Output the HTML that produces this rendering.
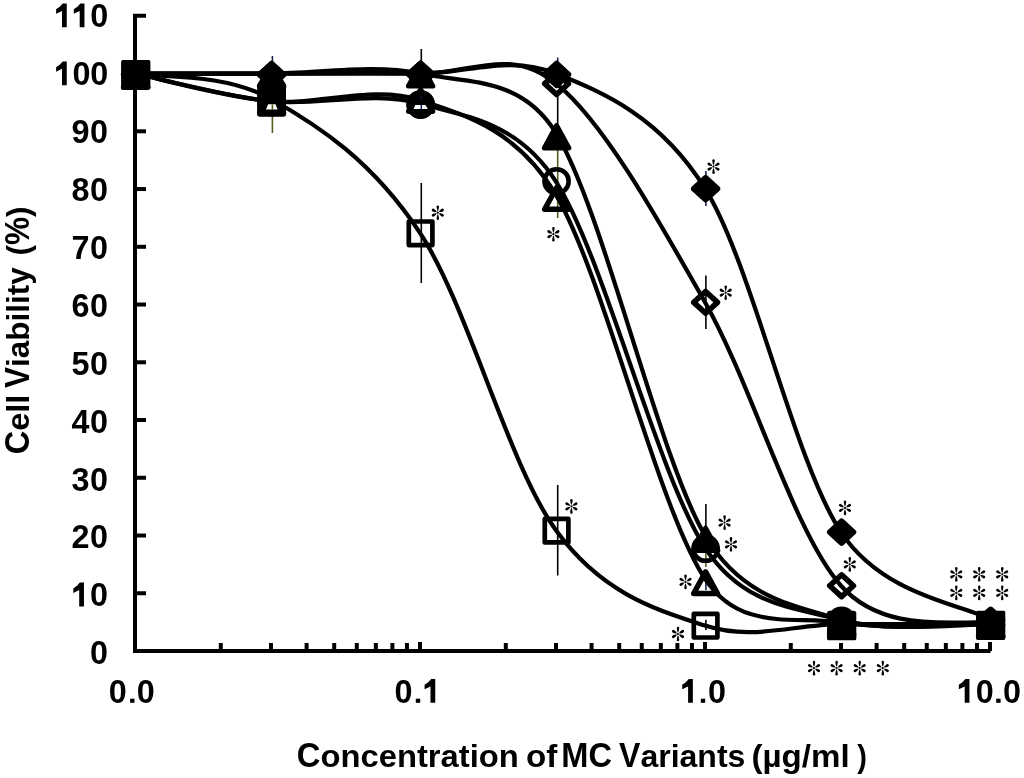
<!DOCTYPE html><html><head><meta charset="utf-8"><title>Cell viability chart</title><style>html,body{margin:0;padding:0;background:#fff;overflow:hidden}svg{display:block;will-change:transform}text{font-family:"Liberation Sans",sans-serif;font-weight:bold;}</style></head><body>
<svg width="1024" height="778" viewBox="0 0 1024 778">
<defs><g id="ast"><circle r="1.1"/><path d="M0,-1.30 C0.54,-1.90 1.20,-4.50 1.20,-6.10 A1.20,1.20 0 0 0 -1.20,-6.10 C-1.20,-4.50 -0.54,-1.90 0,-1.30 Z"/><path d="M0,-1.30 C0.54,-1.90 1.20,-4.50 1.20,-6.10 A1.20,1.20 0 0 0 -1.20,-6.10 C-1.20,-4.50 -0.54,-1.90 0,-1.30 Z" transform="rotate(180)"/><path d="M0,-1.30 C0.61,-1.90 1.35,-3.85 1.35,-5.45 A1.35,1.35 0 0 0 -1.35,-5.45 C-1.35,-3.85 -0.61,-1.90 0,-1.30 Z" transform="rotate(60)"/><path d="M0,-1.30 C0.61,-1.90 1.35,-3.85 1.35,-5.45 A1.35,1.35 0 0 0 -1.35,-5.45 C-1.35,-3.85 -0.61,-1.90 0,-1.30 Z" transform="rotate(120)"/><path d="M0,-1.30 C0.61,-1.90 1.35,-3.85 1.35,-5.45 A1.35,1.35 0 0 0 -1.35,-5.45 C-1.35,-3.85 -0.61,-1.90 0,-1.30 Z" transform="rotate(240)"/><path d="M0,-1.30 C0.61,-1.90 1.35,-3.85 1.35,-5.45 A1.35,1.35 0 0 0 -1.35,-5.45 C-1.35,-3.85 -0.61,-1.90 0,-1.30 Z" transform="rotate(300)"/></g></defs>
<rect width="1024" height="778" fill="#fff"/>
<g stroke="#000" stroke-width="4" fill="none" stroke-linecap="butt">
<path d="M146,15.8 H135 V651 H990.5"/>
<path d="M135,593.25 H146"/>
<path d="M135,535.51 H146"/>
<path d="M135,477.76 H146"/>
<path d="M135,420.02 H146"/>
<path d="M135,362.28 H146"/>
<path d="M135,304.53 H146"/>
<path d="M135,246.79 H146"/>
<path d="M135,189.04 H146"/>
<path d="M135,131.30 H146"/>
<path d="M135,73.55 H146"/>
<path d="M220.79,651 V643"/>
<path d="M270.98,651 V643"/>
<path d="M306.59,651 V643"/>
<path d="M334.21,651 V643"/>
<path d="M356.77,651 V643"/>
<path d="M375.85,651 V643"/>
<path d="M392.38,651 V643"/>
<path d="M406.96,651 V643"/>
<path d="M420.00,651 V642"/>
<path d="M505.79,651 V643"/>
<path d="M555.98,651 V643"/>
<path d="M591.59,651 V643"/>
<path d="M619.21,651 V643"/>
<path d="M641.77,651 V643"/>
<path d="M660.85,651 V643"/>
<path d="M677.38,651 V643"/>
<path d="M691.96,651 V643"/>
<path d="M705.00,651 V642"/>
<path d="M790.79,651 V643"/>
<path d="M840.98,651 V643"/>
<path d="M876.59,651 V643"/>
<path d="M904.21,651 V643"/>
<path d="M926.77,651 V643"/>
<path d="M945.85,651 V643"/>
<path d="M962.38,651 V643"/>
<path d="M976.96,651 V643"/>
<path d="M990.00,651 V642"/>
</g>
<g fill="#000">
<text transform="translate(89.92,664.30) scale(1.0050,1.0600)" font-size="32.20">0</text>
<text transform="translate(89.92,606.39) scale(1.0050,1.0600)" font-size="32.20">0</text>
<path d="M83.95,582.60 L83.95,606.39 L79.20,606.39 L79.20,590.00 L73.30,592.89 L73.30,588.39 L76.90,585.79 L79.90,582.60 Z"/>
<text transform="translate(89.92,548.49) scale(1.0050,1.0600)" font-size="32.20">0</text>
<text transform="translate(71.61,548.49) scale(1.0050,1.0600)" font-size="32.20">2</text>
<text transform="translate(89.92,490.58) scale(1.0050,1.0600)" font-size="32.20">0</text>
<text transform="translate(71.61,490.58) scale(1.0050,1.0600)" font-size="32.20">3</text>
<text transform="translate(89.92,432.68) scale(1.0050,1.0600)" font-size="32.20">0</text>
<text transform="translate(71.60,432.68) scale(1.0050,1.0600)" font-size="32.20">4</text>
<text transform="translate(89.92,374.78) scale(1.0050,1.0600)" font-size="32.20">0</text>
<text transform="translate(71.61,374.78) scale(1.0050,1.0600)" font-size="32.20">5</text>
<text transform="translate(89.92,316.87) scale(1.0050,1.0600)" font-size="32.20">0</text>
<text transform="translate(71.62,316.87) scale(1.0050,1.0600)" font-size="32.20">6</text>
<text transform="translate(89.92,258.97) scale(1.0050,1.0600)" font-size="32.20">0</text>
<text transform="translate(71.62,258.97) scale(1.0050,1.0600)" font-size="32.20">7</text>
<text transform="translate(89.92,201.06) scale(1.0050,1.0600)" font-size="32.20">0</text>
<text transform="translate(71.61,201.06) scale(1.0050,1.0600)" font-size="32.20">8</text>
<text transform="translate(89.92,143.16) scale(1.0050,1.0600)" font-size="32.20">0</text>
<text transform="translate(71.61,143.16) scale(1.0050,1.0600)" font-size="32.20">9</text>
<text transform="translate(90.22,85.25) scale(1.0050,1.0600)" font-size="32.20">0</text>
<text transform="translate(72.52,85.25) scale(1.0050,1.0600)" font-size="32.20">0</text>
<path d="M66.75,61.45 L66.75,85.25 L62.00,85.25 L62.00,68.85 L56.10,71.75 L56.10,67.25 L59.70,64.65 L62.70,61.45 Z"/>
<text transform="translate(90.22,27.35) scale(1.0050,1.0600)" font-size="32.20">0</text>
<path d="M84.45,3.55 L84.45,27.35 L79.70,27.35 L79.70,10.95 L73.80,13.85 L73.80,9.35 L77.40,6.75 L80.40,3.55 Z"/>
<path d="M66.75,3.55 L66.75,27.35 L62.00,27.35 L62.00,10.95 L56.10,13.85 L56.10,9.35 L59.70,6.75 L62.70,3.55 Z"/>
<text transform="translate(108.82,702.80) scale(1.0050,1.0600)" font-size="32.20">0</text>
<rect x="130.10" y="698.70" width="4.4" height="4.1"/>
<text transform="translate(136.72,702.80) scale(1.0050,1.0600)" font-size="32.20">0</text>
<text transform="translate(394.62,702.80) scale(1.0050,1.0600)" font-size="32.20">0</text>
<rect x="415.80" y="698.70" width="4.4" height="4.1"/>
<path d="M435.25,679.00 L435.25,702.80 L430.50,702.80 L430.50,686.40 L424.60,689.30 L424.60,684.80 L428.20,682.20 L431.20,679.00 Z"/>
<path d="M692.85,679.00 L692.85,702.80 L688.10,702.80 L688.10,686.40 L682.20,689.30 L682.20,684.80 L685.80,682.20 L688.80,679.00 Z"/>
<rect x="700.80" y="698.70" width="4.4" height="4.1"/>
<text transform="translate(708.02,702.80) scale(1.0050,1.0600)" font-size="32.20">0</text>
<path d="M969.45,679.00 L969.45,702.80 L964.70,702.80 L964.70,686.40 L958.80,689.30 L958.80,684.80 L962.40,682.20 L965.40,679.00 Z"/>
<text transform="translate(975.82,702.80) scale(1.0050,1.0600)" font-size="32.20">0</text>
<rect x="996.20" y="698.70" width="4.4" height="4.1"/>
<text transform="translate(1002.92,702.80) scale(1.0050,1.0600)" font-size="32.20">0</text>
<text transform="translate(296.86,767.20) scale(1.0171,1.0700)" font-size="32.20">C</text>
<text transform="translate(320.51,767.20) scale(1.0171,1.0000)" font-size="32.20">oncentration</text>
<text transform="translate(526.00,767.20) scale(1.0309,1.0000)" font-size="32.20">of</text>
<text transform="translate(561.32,767.20) scale(1.0119,1.0700)" font-size="32.20">MC</text>
<text transform="translate(619.08,767.20) scale(0.9942,1.0700)" font-size="32.20">V</text>
<text transform="translate(640.43,767.20) scale(0.9942,1.0000)" font-size="32.20">ariants</text>
<text transform="translate(751.55,767.20) scale(1.0275,1.0000)" font-size="32.20">(µg/ml</text>
<text transform="translate(857.27,767.20) scale(0.9023,1.0000)" font-size="32.20">)</text>
<g transform="rotate(-90)">
<text transform="translate(-454.34,28.90) scale(1.0117,1.0700)" font-size="32.20">C</text>
<text transform="translate(-430.81,28.90) scale(1.0117,1.0000)" font-size="32.20">ell</text>
<text transform="translate(-387.91,28.90) scale(0.9766,1.0700)" font-size="32.20">V</text>
<text transform="translate(-366.94,28.90) scale(0.9766,1.0000)" font-size="32.20">iability</text>
<text transform="translate(-255.57,28.90) scale(0.9793,1.0000)" font-size="32.20">(</text>
<text transform="translate(-245.07,28.90) scale(0.9793,1.0700)" font-size="32.20">%</text>
<text transform="translate(-217.03,28.90) scale(0.9793,1.0000)" font-size="32.20">)</text>
</g>
</g>
<g stroke-width="1.6" fill="none">
<path d="M272.4,56.0 V75.0" stroke="#142350"/>
<path d="M272.4,110.0 V133.0" stroke="#4e5f1e"/>
<path d="M421.3,49.0 V70.0" stroke="#000"/>
<path d="M421.3,183.0 V283.0" stroke="#000"/>
<path d="M557.7,57.5 V62.0" stroke="#142350"/>
<path d="M557.7,95.0 V124.0" stroke="#000"/>
<path d="M557.7,150.0 V218.0" stroke="#4e5f1e"/>
<path d="M557.7,485.0 V575.5" stroke="#000"/>
<path d="M705.9,171.0 V206.0" stroke="#142350"/>
<path d="M705.9,275.4 V329.0" stroke="#000"/>
<path d="M705.9,504.0 V527.0" stroke="#000"/>
<path d="M705.9,553.0 V567.0" stroke="#4e5f1e"/>
<path d="M705.9,578.0 V590.0" stroke="#142350"/>
<path d="M705.9,619.7 V630.0" stroke="#000"/>
</g>
<g stroke="#000" stroke-width="4.2" fill="none">
<path d="M135.00,73.55 C157.66,73.55 223.48,73.55 270.98,73.55 C318.48,73.55 372.50,73.55 420.00,73.55 C467.50,73.55 508.48,54.40 555.98,73.55 C603.48,92.70 660.30,116.54 705.00,188.46 C752.50,264.88 793.48,460.25 840.98,532.05 C883.85,596.84 965.16,604.71 990.00,619.24"/>
<path d="M135.00,73.55 C157.66,73.55 223.48,73.55 270.98,73.55 C318.48,73.55 372.50,71.91 420.00,73.55 C467.50,75.19 508.48,45.25 555.98,83.37 C603.48,121.48 657.50,218.49 705.00,302.22 C752.50,385.95 793.48,532.14 840.98,585.75 C886.88,637.55 965.16,617.51 990.00,623.86"/>
<path d="M135.00,73.55 C157.66,73.55 223.48,73.55 270.98,73.55 C318.48,73.55 372.50,63.64 420.00,73.55 C467.50,83.46 520.91,76.19 555.98,133.03 C603.48,210.02 657.50,454.38 705.00,535.51 C741.38,597.64 793.48,605.43 840.98,619.82 C888.48,634.21 965.16,621.50 990.00,621.84"/>
<path d="M135.00,73.55 C157.66,78.17 223.48,96.26 270.98,101.27 C318.48,106.27 372.50,90.20 420.00,103.58 C467.50,116.95 517.88,122.17 555.98,181.53 C603.48,255.54 657.50,474.54 705.00,547.64 C742.78,605.78 793.48,607.31 840.98,620.11 C888.48,632.91 965.16,623.72 990.00,624.44"/>
<path d="M135.00,73.55 C157.66,78.17 223.48,96.84 270.98,101.27 C318.48,105.69 372.50,84.52 420.00,100.11 C467.50,115.70 517.83,130.74 555.98,194.81 C603.48,274.60 657.50,507.50 705.00,578.82 C740.64,632.33 793.48,615.29 840.98,622.70 C888.48,630.12 965.16,623.19 990.00,623.28"/>
<path d="M135.00,73.55 C157.66,77.78 223.48,72.40 270.98,98.96 C318.48,125.52 372.50,161.03 420.00,232.93 C467.50,304.82 508.48,464.87 555.98,530.31 C602.73,594.73 657.50,609.95 705.00,625.59 C752.50,641.23 793.48,624.34 840.98,624.15 C888.48,623.96 965.16,624.39 990.00,624.44"/>
</g>
<rect x="123.80" y="62.55" width="23.60" height="23.60" fill="none" stroke="#000" stroke-width="4.7" stroke-linejoin="round"/>
<rect x="259.78" y="90.65" width="23.60" height="23.60" fill="none" stroke="#000" stroke-width="4.7" stroke-linejoin="round"/>
<rect x="408.80" y="221.50" width="23.60" height="23.60" fill="none" stroke="#000" stroke-width="4.7" stroke-linejoin="round"/>
<rect x="544.78" y="518.80" width="23.60" height="23.60" fill="none" stroke="#000" stroke-width="4.7" stroke-linejoin="round"/>
<rect x="693.80" y="613.90" width="23.60" height="23.60" fill="none" stroke="#000" stroke-width="4.7" stroke-linejoin="round"/>
<rect x="829.78" y="613.15" width="23.60" height="23.60" fill="none" stroke="#000" stroke-width="4.7" stroke-linejoin="round"/>
<rect x="978.80" y="613.44" width="23.60" height="23.60" fill="none" stroke="#000" stroke-width="4.7" stroke-linejoin="round"/>
<path d="M135.60,65.55 L147.55,87.15 L123.65,87.15 Z" fill="none" stroke="#000" stroke-width="5.4" stroke-linejoin="round"/>
<path d="M271.58,91.20 L283.53,112.80 L259.63,112.80 Z" fill="none" stroke="#000" stroke-width="5.4" stroke-linejoin="round"/>
<path d="M420.60,89.70 L432.55,111.30 L408.65,111.30 Z" fill="none" stroke="#000" stroke-width="5.4" stroke-linejoin="round"/>
<path d="M556.58,187.70 L568.53,209.30 L544.63,209.30 Z" fill="none" stroke="#000" stroke-width="5.4" stroke-linejoin="round"/>
<path d="M705.60,571.90 L717.55,593.50 L693.65,593.50 Z" fill="none" stroke="#000" stroke-width="5.4" stroke-linejoin="round"/>
<path d="M841.58,614.70 L853.53,636.30 L829.63,636.30 Z" fill="none" stroke="#000" stroke-width="5.4" stroke-linejoin="round"/>
<path d="M990.60,615.28 L1002.55,636.88 L978.65,636.88 Z" fill="none" stroke="#000" stroke-width="5.4" stroke-linejoin="round"/>
<circle cx="135.60" cy="74.35" r="12.10" fill="none" stroke="#000" stroke-width="4.6"/>
<circle cx="271.58" cy="102.10" r="12.10" fill="none" stroke="#000" stroke-width="4.6"/>
<circle cx="420.60" cy="104.60" r="12.10" fill="none" stroke="#000" stroke-width="4.6"/>
<circle cx="556.58" cy="181.30" r="12.10" fill="none" stroke="#000" stroke-width="4.6"/>
<circle cx="705.60" cy="548.70" r="12.10" fill="none" stroke="#000" stroke-width="4.6"/>
<circle cx="841.58" cy="621.00" r="12.10" fill="none" stroke="#000" stroke-width="4.6"/>
<circle cx="990.60" cy="625.24" r="12.10" fill="none" stroke="#000" stroke-width="4.6"/>
<path d="M135.60,65.15 L147.85,87.55 L123.35,87.55 Z" fill="#000" stroke="#000" stroke-width="5" stroke-linejoin="round"/>
<path d="M271.58,63.80 L283.83,86.20 L259.33,86.20 Z" fill="#000" stroke="#000" stroke-width="5" stroke-linejoin="round"/>
<path d="M420.60,63.70 L432.85,86.10 L408.35,86.10 Z" fill="#000" stroke="#000" stroke-width="5" stroke-linejoin="round"/>
<path d="M556.58,125.55 L568.83,147.95 L544.33,147.95 Z" fill="#000" stroke="#000" stroke-width="5" stroke-linejoin="round"/>
<path d="M705.60,528.10 L717.85,550.50 L693.35,550.50 Z" fill="#000" stroke="#000" stroke-width="5" stroke-linejoin="round"/>
<path d="M841.58,611.42 L853.83,633.82 L829.33,633.82 Z" fill="#000" stroke="#000" stroke-width="5" stroke-linejoin="round"/>
<path d="M990.60,613.44 L1002.85,635.84 L978.35,635.84 Z" fill="#000" stroke="#000" stroke-width="5" stroke-linejoin="round"/>
<path d="M135.60,63.45 L147.50,74.35 L135.60,85.25 L123.70,74.35 Z" fill="none" stroke="#000" stroke-width="5.5" stroke-linejoin="round"/>
<path d="M271.58,63.45 L283.48,74.35 L271.58,85.25 L259.68,74.35 Z" fill="none" stroke="#000" stroke-width="5.5" stroke-linejoin="round"/>
<path d="M420.60,63.45 L432.50,74.35 L420.60,85.25 L408.70,74.35 Z" fill="none" stroke="#000" stroke-width="5.5" stroke-linejoin="round"/>
<path d="M556.58,72.70 L568.48,83.60 L556.58,94.50 L544.68,83.60 Z" fill="none" stroke="#000" stroke-width="5.5" stroke-linejoin="round"/>
<path d="M705.60,291.50 L717.50,302.40 L705.60,313.30 L693.70,302.40 Z" fill="none" stroke="#000" stroke-width="5.5" stroke-linejoin="round"/>
<path d="M841.58,574.80 L853.48,585.70 L841.58,596.60 L829.68,585.70 Z" fill="none" stroke="#000" stroke-width="5.5" stroke-linejoin="round"/>
<path d="M990.60,613.76 L1002.50,624.66 L990.60,635.56 L978.70,624.66 Z" fill="none" stroke="#000" stroke-width="5.5" stroke-linejoin="round"/>
<path d="M135.60,63.65 L147.25,74.35 L135.60,85.05 L123.95,74.35 Z" fill="#000" stroke="#000" stroke-width="6" stroke-linejoin="round"/>
<path d="M271.58,64.15 L283.23,74.85 L271.58,85.55 L259.93,74.85 Z" fill="#000" stroke="#000" stroke-width="6" stroke-linejoin="round"/>
<path d="M420.60,63.35 L432.25,74.05 L420.60,84.75 L408.95,74.05 Z" fill="#000" stroke="#000" stroke-width="6" stroke-linejoin="round"/>
<path d="M556.58,63.75 L568.23,74.45 L556.58,85.15 L544.93,74.45 Z" fill="#000" stroke="#000" stroke-width="6" stroke-linejoin="round"/>
<path d="M705.60,178.00 L717.25,188.70 L705.60,199.40 L693.95,188.70 Z" fill="#000" stroke="#000" stroke-width="6" stroke-linejoin="round"/>
<path d="M841.58,521.40 L853.23,532.10 L841.58,542.80 L829.93,532.10 Z" fill="#000" stroke="#000" stroke-width="6" stroke-linejoin="round"/>
<path d="M990.60,609.55 L1002.25,620.25 L990.60,630.95 L978.95,620.25 Z" fill="#000" stroke="#000" stroke-width="6" stroke-linejoin="round"/>
<rect x="122.90" y="61.80" width="25.80" height="25.80" fill="#000" stroke="#000" stroke-width="3.4" stroke-linejoin="round"/>
<rect x="828.80" y="612.85" width="25.80" height="25.80" fill="#000" stroke="#000" stroke-width="3.4" stroke-linejoin="round"/>
<rect x="977.80" y="612.40" width="25.80" height="25.80" fill="#000" stroke="#000" stroke-width="3.4" stroke-linejoin="round"/>
<path d="M257.2,86 Q257.2,82 261,82 L282.2,82 Q286,82 286,86 L286,114.6 Q286,116.6 284,116.6 L259.2,116.6 Q257.2,116.6 257.2,114.6 Z" fill="#000"/>
<path d="M268.2,104.3 L275.4,104.3 L277.7,109.5 L265.9,109.5 Z" fill="#fff"/>
<path d="M272.4,104.3 V110" stroke="#4e5f1e" stroke-width="1.6"/>
<circle cx="420.7" cy="104.4" r="14.2" fill="#000"/>
<path d="M415.3,104.9 L425.4,104.9 L427.8,108.9 L413.6,108.9 Z" fill="#fff"/>
<path d="M421.3,104.9 V109" stroke="#142350" stroke-width="1.6"/>
<path d="M420.9,96.6 V98.6" stroke="#142350" stroke-width="1.4"/>
<g fill="#000">
<use href="#ast" x="437.8" y="212.7"/>
<use href="#ast" x="553.4" y="234.2"/>
<use href="#ast" x="571.4" y="506.4"/>
<use href="#ast" x="713.5" y="166.6"/>
<use href="#ast" x="725.7" y="292.7"/>
<use href="#ast" x="724.6" y="522.6"/>
<use href="#ast" x="731.0" y="544.3"/>
<use href="#ast" x="685.5" y="581.9"/>
<use href="#ast" x="678.0" y="634.0"/>
<use href="#ast" x="845.0" y="507.9"/>
<use href="#ast" x="849.8" y="564.4"/>
<use href="#ast" x="814.0" y="668.1"/>
<use href="#ast" x="836.6" y="668.1"/>
<use href="#ast" x="859.7" y="668.1"/>
<use href="#ast" x="882.8" y="668.1"/>
<use href="#ast" x="956.3" y="574.3"/>
<use href="#ast" x="979.2" y="574.3"/>
<use href="#ast" x="1002.2" y="574.3"/>
<use href="#ast" x="956.3" y="592.9"/>
<use href="#ast" x="979.2" y="592.9"/>
<use href="#ast" x="1002.2" y="592.9"/>
</g>
</svg></body></html>
